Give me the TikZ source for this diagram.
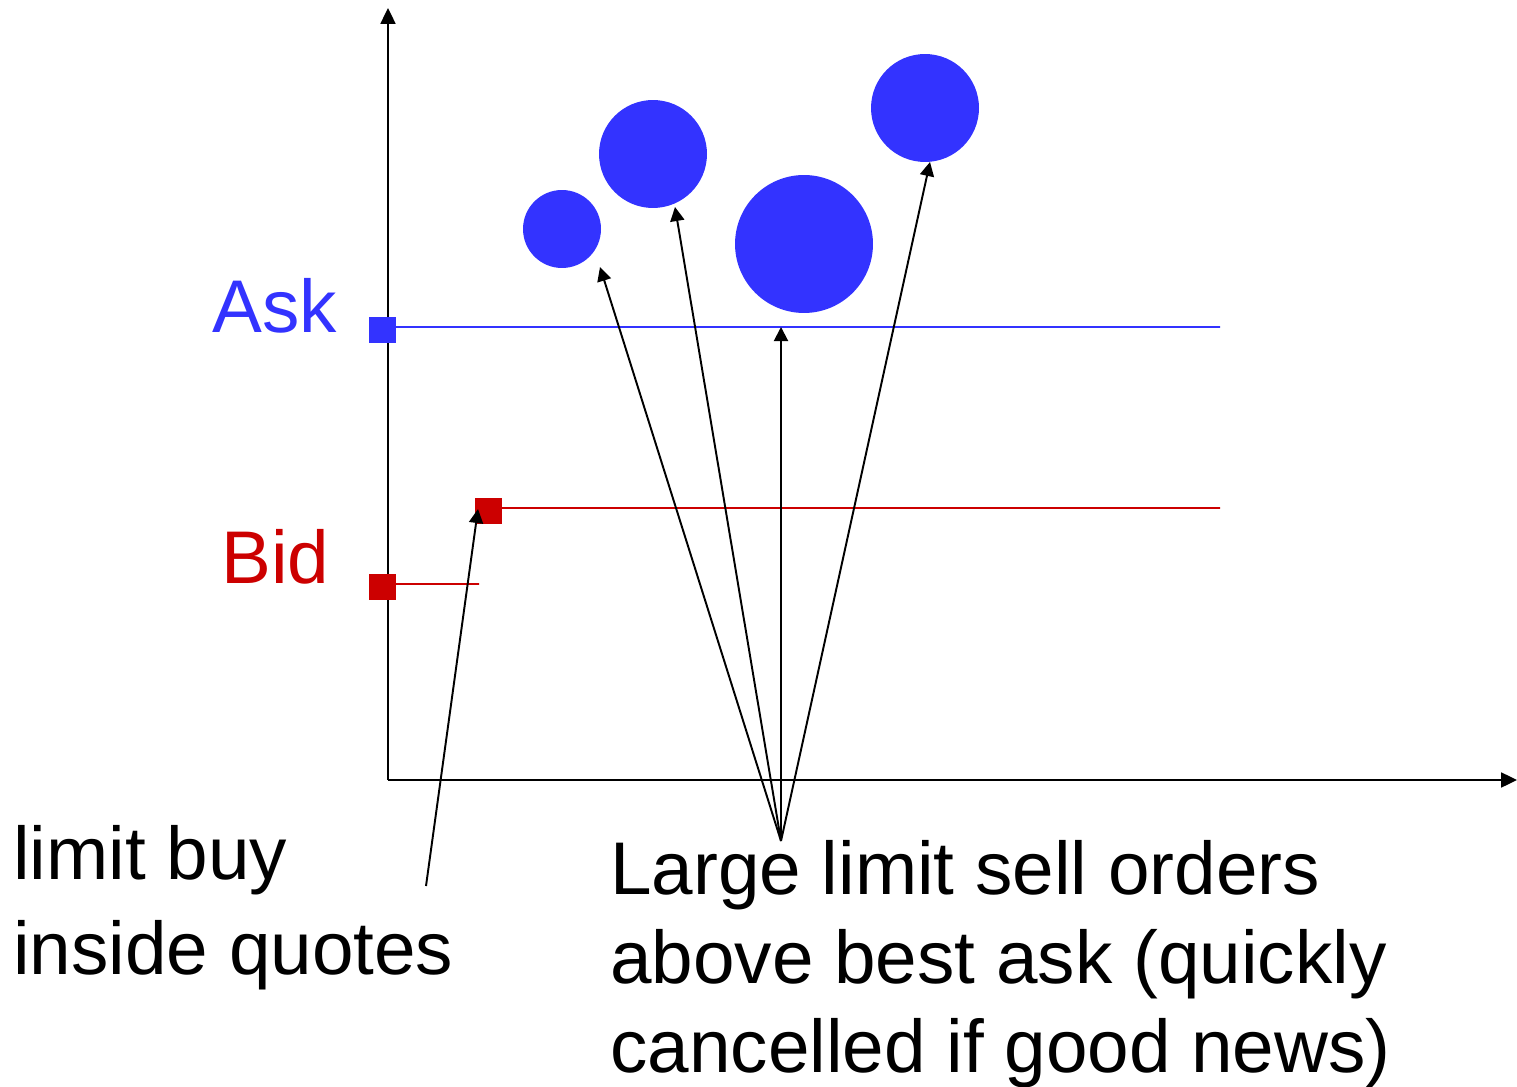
\documentclass[tikz,border=0pt]{standalone}
\usepackage{fontspec}
\setmainfont{Liberation Sans}
\usetikzlibrary{arrows.meta,calc}
\definecolor{obask}{RGB}{51,51,255}
\definecolor{obbid}{RGB}{204,0,0}
\tikzset{
  axis/.style={draw=black, line width=1.1pt, -{Triangle[length=9pt,width=8.5pt]}},
  arr/.style={draw=black, line width=1.1pt, -{Triangle[length=8pt,width=8pt]}},
  quote/.style={draw=none, inner sep=0pt, minimum size=0.54cm},
  askbox/.style={quote, fill=obask},
  bidbox/.style={quote, fill=obbid},
  askline/.style={draw=obask, line width=1.1pt},
  bidline/.style={draw=obbid, line width=1.1pt},
  order/.style={circle, fill=obask, inner sep=0pt},
  lbl/.style={inner sep=0pt, font=\fontsize{42.5}{50.5}\selectfont, align=left}
}
\begin{document}
\begin{tikzpicture}[x=0.02cm,y=-0.02cm]
  \useasboundingbox (0,0) rectangle (1517,1087);

  % axes
  \coordinate (orig) at (388,780);
  \coordinate (ytop) at (388,8);
  \coordinate (xend) at (1517,780);
  \draw[axis] (orig) -- (ytop);
  \draw[axis] (orig) -- (xend);

  % quotes
  \node[askbox] (ask) at (382,330) {};
  \node[bidbox] (bid) at (382,587) {};
  \node[bidbox] (bidin) at (488,511) {};
  \coordinate (askend) at (1220,327);
  \coordinate (bidend) at (479,584);
  \coordinate (bidinend) at (1220,508);
  \draw[askline] ([yshift=0.06cm]ask.east) -- (askend);
  \draw[bidline] ([yshift=0.06cm]bid.east) -- (bidend);
  \draw[bidline] ([yshift=0.06cm]bidin.east) -- (bidinend);

  % sell orders
  \node[order, minimum size=1.56cm] (o1) at (562,229) {};
  \node[order, minimum size=2.16cm] (o2) at (653,154) {};
  \node[order, minimum size=2.76cm] (o3) at (804,244) {};
  \node[order, minimum size=2.16cm] (o4) at (925,108) {};

  \node[lbl, text=obask, anchor=base west] (asklbl) at (212,333) {Ask};
  \node[lbl, text=obbid, anchor=base west] (bidlbl) at (221,583) {Bid};
  \node[lbl, anchor=base west, font=\fontsize{42.5}{54}\selectfont]
    (buylbl) at (13,974) {limit buy\\inside quotes};
  \node[lbl, anchor=base west] (selllbl) at (610,1072)
    {Large limit sell orders\\above best ask (quickly\\cancelled if good news)};

  \coordinate (fan) at (781,841);
  \coordinate (buytail) at (426,886);
  \draw[arr] (fan) -- ([shift={(38,38)}]o1.center);
  \draw[arr] (fan) -- ([shift={(22,53)}]o2.center);
  \draw[arr] (fan) -- (fan |- askend);
  \draw[arr] (fan) -- ([shift={(5,54)}]o4.center);
  \draw[arr] (buytail) -- ([shift={(-10,-2)}]bidin.center);
\end{tikzpicture}
\end{document}
